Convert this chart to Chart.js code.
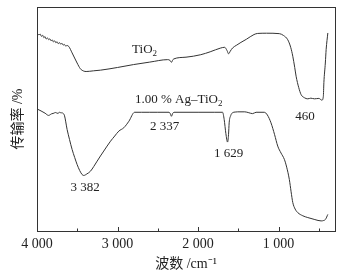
<!DOCTYPE html>
<html>
<head>
<meta charset="utf-8">
<script src="https://cdn.jsdelivr.net/npm/chart.js@4.4.1/dist/chart.umd.min.js"></script>
<style>
    body { margin: 0; background: #fff; }
    canvas { display: block; }
</style>
</head>
<body>
<canvas id="ftirChart" width="363" height="275"></canvas>
<script>
// wavenumber (cm-1) and transmittance readings, TiO2 (upper trace)
const tio2Wn = [4000, 3975, 3960, 3945, 3930, 3915, 3900, 3885, 3870, 3855, 3840, 3825, 3810, 3795, 3780, 3765, 3750, 3735, 3720, 3705, 3690, 3675, 3660, 3645, 3625, 3606, 3564, 3502, 3461, 3420, 3390, 3300, 3212, 3000, 2801, 2600, 2377, 2350, 2331, 2315, 2303, 2150, 1967, 1850, 1718, 1670, 1640, 1621, 1600, 1572, 1520, 1468, 1400, 1306, 1260, 1150, 991, 940, 887, 850, 824, 800, 783, 750, 721, 680, 638, 600, 555, 500, 463, 445, 438, 420, 410, 389];
const tio2T = [88.4, 87.6, 87.9, 86.9, 87.4, 86.3, 86.8, 85.7, 86.2, 85.4, 85.8, 84.9, 85.3, 84.4, 84.9, 84.0, 84.5, 83.6, 84.1, 83.4, 83.8, 83.0, 83.3, 82.6, 82.8, 82.4, 79.5, 75.0, 72.4, 71.4, 71.2, 71.5, 71.8, 73.0, 74.3, 75.4, 76.5, 76.2, 75.3, 76.3, 76.8, 77.6, 78.7, 80.0, 81.7, 82.0, 80.5, 79.1, 80.3, 81.7, 83.0, 84.2, 85.6, 87.7, 88.2, 88.3, 88.1, 87.3, 85.4, 82.0, 78.0, 73.0, 69.1, 64.0, 60.9, 59.5, 59.0, 59.3, 59.0, 59.2, 58.4, 60.0, 66.3, 75.0, 81.0, 88.4];

// 1.00 % Ag-TiO2 (lower trace)
const agWn = [4000, 3950, 3900, 3856, 3820, 3790, 3772, 3740, 3720, 3700, 3689, 3675, 3660, 3626, 3596, 3564, 3532, 3502, 3470, 3440, 3420, 3380, 3336, 3295, 3253, 3212, 3171, 3130, 3087, 3035, 2984, 2922, 2859, 2788, 2700, 2600, 2500, 2361, 2345, 2331, 2315, 2299, 2000, 1800, 1696, 1676, 1655, 1634, 1622, 1614, 1595, 1572, 1540, 1509, 1420, 1370, 1323, 1280, 1178, 1140, 1095, 1050, 1011, 970, 929, 900, 867, 845, 824, 795, 762, 700, 638, 550, 472, 440, 418, 389];
const agT = [54.5, 53.6, 52.6, 51.6, 52.3, 52.6, 52.9, 52.5, 53.0, 52.7, 52.9, 52.4, 51.7, 45.3, 40.8, 36.4, 32.8, 29.7, 27.0, 25.2, 24.8, 25.5, 26.7, 28.8, 31.2, 33.5, 35.7, 37.9, 40.1, 42.4, 44.6, 46.1, 49.0, 53.0, 53.0, 53.0, 53.0, 53.0, 52.4, 51.2, 52.5, 53.0, 53.0, 53.0, 53.0, 49.8, 43.5, 39.7, 43.0, 48.3, 51.5, 52.8, 53.1, 53.2, 53.2, 52.8, 52.4, 53.0, 53.0, 51.8, 48.3, 43.0, 37.9, 34.8, 32.0, 28.5, 23.0, 17.5, 12.7, 9.8, 8.2, 6.8, 6.0, 5.1, 4.5, 4.7, 5.2, 7.4];

const xTicks = [4000, 3000, 2000, 1000];
const minorTicks = [3500, 2500, 1500, 500];

// peak labels, placed in data units ("_" marks a subscript char)
const labels = [
    { text: "TiO_2", wn: 2664, t: 81.0 },
    { text: "1.00 % Ag–TiO_2", wn: 2240, t: 58.7 },
    { text: "2 337", wn: 2415, t: 46.8 },
    { text: "1 629", wn: 1620, t: 34.5 },
    { text: "3 382", wn: 3402, t: 19.6 },
    { text: "460", wn: 671, t: 51.2 }
];

const FONT = "'Liberation Serif', 'Noto Sans CJK SC', serif";
const INK = "#333";

function toPoints(xs, ys) {
    return xs.map((x, i) => ({ x: x, y: ys[i] }));
}

function drawRich(ctx, str, cx, cy, size) {
    const parts = [];
    for (let i = 0; i < str.length; i++) {
        if (str[i] === "_") {
            parts.push({ s: str[i + 1], sub: true });
            i++;
        } else if (parts.length && !parts[parts.length - 1].sub) {
            parts[parts.length - 1].s += str[i];
        } else {
            parts.push({ s: str[i], sub: false });
        }
    }
    const subSize = Math.round(size * 0.7);
    let total = 0;
    parts.forEach(p => {
        ctx.font = (p.sub ? subSize : size) + "px " + FONT;
        p.w = ctx.measureText(p.s).width;
        total += p.w;
    });
    let x = cx - total / 2;
    ctx.textBaseline = "middle";
    ctx.textAlign = "left";
    parts.forEach(p => {
        ctx.font = (p.sub ? subSize : size) + "px " + FONT;
        ctx.fillText(p.s, x, p.sub ? cy + size * 0.3 : cy);
        x += p.w;
    });
}

const framePlugin = {
    id: "frame",
    afterDraw(chart) {
        const { ctx, chartArea: a, scales } = chart;
        ctx.save();
        ctx.strokeStyle = INK;
        ctx.lineWidth = 1;
        ctx.strokeRect(a.left + 0.5, a.top + 0.5, a.right - a.left, a.bottom - a.top);
        // inward ticks on the bottom axis
        ctx.beginPath();
        xTicks.concat(minorTicks).forEach(v => {
            const px = Math.round(scales.x.getPixelForValue(v)) + 0.5;
            const len = minorTicks.includes(v) ? 2.5 : 4;
            ctx.moveTo(px, a.bottom);
            ctx.lineTo(px, a.bottom - len);
        });
        ctx.stroke();
        ctx.fillStyle = "#222";
        labels.forEach(l => {
            drawRich(ctx, l.text, scales.x.getPixelForValue(l.wn), scales.y.getPixelForValue(l.t), 13);
        });
        ctx.restore();
    }
};

new Chart(document.getElementById("ftirChart"), {
    type: "line",
    data: {
        datasets: [
            {
                label: "TiO2",
                data: toPoints(tio2Wn, tio2T),
                borderColor: INK,
                borderWidth: 1,
                pointRadius: 0,
                cubicInterpolationMode: "monotone"
            },
            {
                label: "1.00 % Ag-TiO2",
                data: toPoints(agWn, agT),
                borderColor: INK,
                borderWidth: 1,
                pointRadius: 0,
                cubicInterpolationMode: "monotone"
            }
        ]
    },
    options: {
        responsive: false,
        animation: false,
        layout: { padding: { left: 6, top: 7, right: 28, bottom: 0 } },
        plugins: {
            legend: { display: false },
            tooltip: { enabled: false }
        },
        scales: {
            x: {
                type: "linear",
                reverse: true,
                min: 300,
                max: 4000,
                afterBuildTicks: axis => {
                    axis.ticks = xTicks.map(v => ({ value: v }));
                },
                afterFit: axis => { axis.height = 44; },
                grid: { display: false, drawTicks: false },
                border: { display: false },
                ticks: {
                    padding: 5,
                    maxRotation: 0,
                    color: "#222",
                    font: { family: FONT, size: 14 },
                    callback: v => v >= 1000 ? Math.floor(v / 1000) + " " + String(v % 1000).padStart(3, "0") : String(v)
                },
                title: {
                    display: true,
                    text: "波数 /cm⁻¹",
                    color: "#222",
                    font: { family: FONT, size: 14 },
                    padding: { top: 0, bottom: 2 }
                }
            },
            y: {
                min: 0,
                max: 100,
                afterFit: axis => { axis.width = 31; },
                grid: { display: false, drawTicks: false },
                border: { display: false },
                ticks: { display: false },
                title: {
                    display: true,
                    text: "传输率 /%",
                    color: "#222",
                    font: { family: FONT, size: 14 },
                    padding: { top: 4, bottom: 0 }
                }
            }
        }
    },
    plugins: [framePlugin]
});
</script>
</body>
</html>
